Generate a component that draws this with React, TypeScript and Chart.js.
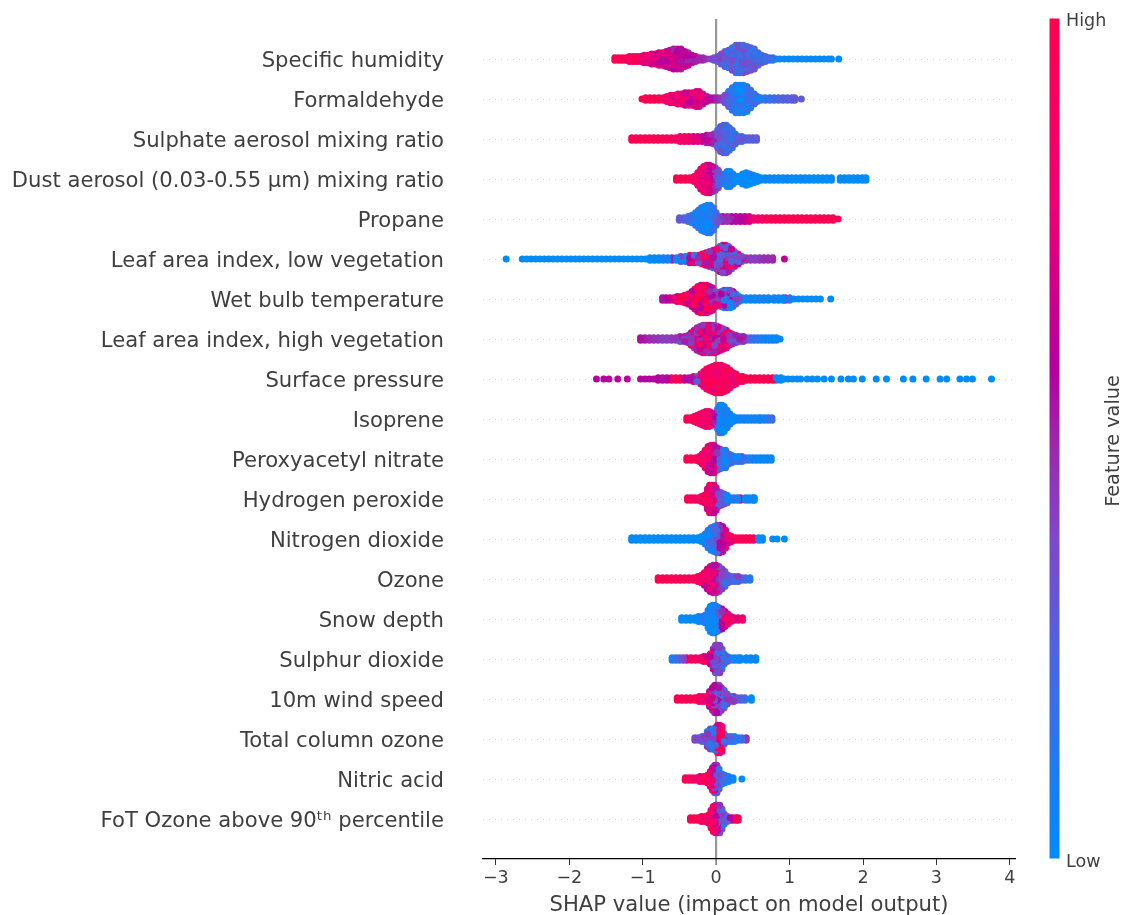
import React, { useEffect, useRef } from "react";
import { Chart, registerables } from "chart.js";

Chart.register(...registerables);

const featureNames = [
  "Specific humidity", "Formaldehyde", "Sulphate aerosol mixing ratio",
  "Dust aerosol (0.03-0.55 μm) mixing ratio", "Propane", "Leaf area index, low vegetation",
  "Wet bulb temperature", "Leaf area index, high vegetation", "Surface pressure", "Isoprene",
  "Peroxyacetyl nitrate", "Hydrogen peroxide", "Nitrogen dioxide", "Ozone", "Snow depth",
  "Sulphur dioxide", "10m wind speed", "Total column ozone", "Nitric acid",
  "FoT Ozone above 90ᵗʰ percentile",
];

// Each entry: [SHAP value, samples stacked at that value, feature value 0..1]
const specificHumidity = [[-1.38,2,.97],[-1.33,2,.96],[-1.28,2,.97],[-1.23,2,.92],[-1.18,3,.9],[-1.13,3,.88],[-1.08,3,.85],[-1.03,3,.82],[-.98,4,.8],[-.93,4,.78],[-.88,5,.75],[-.83,5,.72],[-.78,6,.7],[-.73,6,.66],[-.68,7,.64],[-.63,8,.62],[-.58,9,.6],[-.53,9,.62],[-.48,9,.6],[-.43,7,.58],[-.38,6,.56],[-.33,4,.54],[-.28,3,.52],[-.23,2,.5],[-.18,2,.48],[-.13,1,.46],[-.08,1,.4],[-.03,2,.34],[.02,3,.3],[.07,5,.28],[.12,7,.27],[.17,8,.26],[.22,10,.26],[.27,12,.25],[.32,12,.26],[.37,12,.27],[.42,11,.26],[.47,10,.25],[.52,9,.25],[.57,6,.25],[.62,4,.24],[.67,3,.2],[.72,2,.16],[.77,2,.12],[.82,1,.08],[.87,1,.05],[.93,1,.02],[.99,1,0],[1.05,1,0],[1.11,1,.02],[1.17,1,0],[1.23,1,.02],[1.29,1,0],[1.35,1,0],[1.41,1,0],[1.47,1,0],[1.53,1,0],[1.57,1,0],[1.67,1,0]];
const formaldehyde = [[-1.01,1,.98],[-.96,2,.98],[-.9,2,.98],[-.84,2,.97],[-.78,2,.96],[-.72,2,.94],[-.67,3,.88],[-.62,4,.82],[-.57,4,.78],[-.52,5,.74],[-.47,5,.72],[-.42,6,.7],[-.37,6,.7],[-.32,6,.7],[-.27,7,.72],[-.23,7,.68],[-.18,5,.62],[-.13,3,.58],[-.08,2,.55],[-.03,2,.5],[.02,2,.45],[.07,2,.38],[.12,4,.25],[.17,7,.15],[.22,10,.1],[.27,12,.08],[.32,12,.08],[.37,12,.1],[.42,11,.12],[.47,8,.12],[.52,5,.12],[.56,3,.14],[.61,2,.15],[.67,2,.12],[.73,2,.18],[.79,2,.22],[.85,2,.24],[.91,2,.25],[.97,2,.26],[1.03,2,.28],[1.07,2,.3],[1.16,1,.3]];
const sulphateAerosol = [[-1.15,2,.98],[-1.09,2,.98],[-1.03,2,.98],[-.97,2,.98],[-.91,2,.98],[-.85,2,.98],[-.79,2,.97],[-.73,2,.97],[-.67,2,.95],[-.61,2,.92],[-.55,2,.9],[-.49,3,.85],[-.43,3,.82],[-.37,3,.78],[-.31,3,.72],[-.25,3,.68],[-.19,3,.64],[-.13,4,.58],[-.08,4,.52],[-.03,5,.42],[.02,8,.3],[.06,11,.24],[.1,12,.2],[.14,12,.2],[.18,10,.2],[.22,8,.2],[.26,5,.2],[.3,3,.22],[.35,3,.24],[.4,2,.25],[.45,2,.27],[.5,2,.28],[.55,2,.28]];
const dustAerosol = [[-.54,2,.98],[-.48,2,.98],[-.42,2,.97],[-.36,2,.95],[-.3,3,.9],[-.25,6,.8],[-.21,9,.76],[-.17,11,.74],[-.13,12,.72],[-.09,12,.66],[-.05,11,.56],[-.01,10,.4],[.03,8,.28],[.07,3,.12],[.11,5,.08],[.15,7,.04],[.19,7,.02],[.23,5,.02],[.27,3,0],[.31,3,0],[.36,5,0],[.41,6,0],[.46,5,0],[.51,4,0],[.56,3,0],[.61,2,0],[.67,2,.02],[.73,2,.04],[.79,2,.02],[.85,2,0],[.91,2,.02],[.97,2,.02],[1.03,2,0],[1.09,2,0],[1.15,2,.02],[1.21,2,0],[1.27,2,0],[1.33,2,0],[1.39,2,0],[1.45,2,0],[1.51,2,0],[1.57,2,.03],[1.69,2,0],[1.75,2,0],[1.81,2,0],[1.87,2,0],[1.93,2,0],[1.99,2,0],[2.04,2,0]];
const propane = [[-.5,2,.3],[-.44,2,.25],[-.38,3,.18],[-.33,4,.15],[-.28,6,.12],[-.24,8,.1],[-.2,10,.08],[-.16,11,.06],[-.12,12,.05],[-.08,12,.08],[-.04,10,.16],[0,6,.3],[.04,3,.42],[.09,3,.5],[.15,3,.52],[.21,3,.55],[.27,3,.58],[.33,3,.6],[.39,3,.65],[.45,3,.72],[.51,2,.8],[.57,2,.88],[.63,2,.92],[.69,2,.96],[.75,2,.98],[.81,2,.98],[.87,2,.98],[.93,2,.98],[.99,2,.98],[1.05,2,.98],[1.11,2,.98],[1.17,2,.98],[1.23,2,.98],[1.29,2,.98],[1.35,2,.98],[1.41,2,.98],[1.47,2,.98],[1.53,2,.98],[1.59,2,.98],[1.66,1,.98]];
const leafLow = [[-2.86,1,0],[-2.64,1,0],[-2.58,1,0],[-2.52,1,0],[-2.46,1,0],[-2.4,1,0],[-2.34,1,0],[-2.28,1,0],[-2.22,1,0],[-2.16,1,0],[-2.1,1,0],[-2.04,1,0],[-1.98,1,0],[-1.92,1,0],[-1.86,1,0],[-1.8,1,0],[-1.74,1,0],[-1.68,1,0],[-1.62,1,0],[-1.56,1,0],[-1.5,1,0],[-1.44,1,0],[-1.38,1,0],[-1.32,1,0],[-1.26,1,0],[-1.2,1,0],[-1.14,1,0],[-1.08,1,0],[-1.02,1,0],[-.96,1,0],[-.9,2,0],[-.84,2,.02],[-.78,2,.03],[-.72,2,.05],[-.66,2,.06],[-.6,2,.5],[-.54,2,.08],[-.48,3,.15],[-.42,3,.2],[-.36,4,.85],[-.3,4,.5],[-.24,4,.6],[-.19,5,.9],[-.14,6,.7],[-.09,7,.7],[-.04,8,.55],[.01,9,.55],[.05,11,.5],[.09,12,.55],[.13,12,.52],[.17,11,.5],[.21,9,.5],[.25,7,.5],[.3,5,.5],[.35,3,.52],[.41,2,.45],[.47,2,.42],[.53,2,.42],[.59,2,.45],[.65,2,.48],[.71,2,.48],[.77,2,.5],[.93,1,.62]];
const wetBulb = [[-.73,2,.55],[-.68,2,.58],[-.63,2,.72],[-.58,2,.8],[-.53,3,.85],[-.48,3,.82],[-.43,4,.88],[-.38,5,.85],[-.33,7,.88],[-.29,9,.88],[-.25,11,.85],[-.21,12,.85],[-.17,12,.88],[-.13,12,.82],[-.09,11,.78],[-.05,10,.7],[-.01,7,.62],[.03,6,.55],[.07,7,.38],[.11,8,.3],[.15,8,.26],[.19,8,.3],[.23,7,.34],[.27,5,.15],[.31,3,.1],[.35,2,.1],[.41,2,.04],[.47,2,.02],[.53,2,.02],[.59,2,.1],[.65,2,.04],[.71,2,.02],[.73,1,.85],[.79,2,.05],[.85,2,.02],[.91,2,.02],[.94,2,.8],[1,2,.1],[1.06,1,0],[1.12,1,0],[1.18,1,0],[1.24,1,0],[1.3,1,0],[1.36,1,0],[1.42,1,0],[1.56,1,0]];
const leafHigh = [[-1.03,2,.55],[-.97,2,.52],[-.91,2,.48],[-.85,2,.45],[-.79,2,.44],[-.73,2,.42],[-.67,2,.42],[-.61,2,.44],[-.55,2,.45],[-.49,3,.45],[-.43,3,.52],[-.38,4,.6],[-.34,6,.62],[-.3,8,.62],[-.26,10,.64],[-.22,11,.66],[-.18,12,.66],[-.14,12,.66],[-.1,12,.64],[-.06,12,.62],[-.02,12,.6],[.02,11,.58],[.06,10,.55],[.1,9,.55],[.14,8,.62],[.18,6,.62],[.22,5,.55],[.27,4,.4],[.32,3,.32],[.37,3,.3],[.42,2,.25],[.47,2,.18],[.52,2,.15],[.57,2,.1],[.62,2,.06],[.67,2,.03],[.72,2,.02],[.77,2,.02],[.82,2,.02],[.87,1,.02]];
const surfacePressure = [[-1.63,1,.6],[-1.53,1,.6],[-1.46,1,.6],[-1.34,1,.58],[-1.21,1,.62],[-1.03,1,.6],[-.97,1,.6],[-.91,1,.6],[-.85,1,.58],[-.79,2,.6],[-.73,2,.55],[-.67,2,.62],[-.61,2,.92],[-.55,2,.95],[-.49,2,.95],[-.43,2,.6],[-.37,2,.55],[-.31,3,.6],[-.26,3,.42],[-.21,5,.9],[-.17,7,.88],[-.13,9,.85],[-.09,10,.85],[-.05,11,.88],[-.01,12,.9],[.03,12,.92],[.07,12,.9],[.11,11,.9],[.15,10,.92],[.19,8,.92],[.23,6,.9],[.27,5,.95],[.31,3,.95],[.36,3,.95],[.41,2,.98],[.47,2,.98],[.53,2,.98],[.59,2,.98],[.65,2,.98],[.71,2,.98],[.77,2,.98],[.82,2,0],[.88,2,0],[.93,1,0],[.98,1,0],[1.04,1,0],[1.1,1,0],[1.15,1,0],[1.24,1,0],[1.31,1,0],[1.38,1,0],[1.47,1,0],[1.57,1,0],[1.7,1,0],[1.8,1,0],[1.87,1,0],[1.99,1,0],[2.18,1,0],[2.32,1,0],[2.55,1,0],[2.68,1,0],[2.86,1,0],[3.05,1,0],[3.14,1,0],[3.32,1,0],[3.41,1,0],[3.49,1,0],[3.75,1,0]];
const isoprene = [[-.4,2,.97],[-.35,2,.97],[-.3,3,.95],[-.26,4,.92],[-.22,5,.9],[-.18,6,.86],[-.14,7,.82],[-.1,7,.82],[-.06,6,.7],[-.02,3,.55],[.02,9,.18],[.05,12,.05],[.08,12,.04],[.11,11,.05],[.15,8,.05],[.19,5,.03],[.23,3,.03],[.28,2,.05],[.33,2,.05],[.38,2,.05],[.43,2,.05],[.48,2,.06],[.53,2,.05],[.58,2,.05],[.61,2,.05],[.66,2,.1],[.71,2,.18],[.76,2,.2]];
const peroxyacetylNitrate = [[-.4,2,.97],[-.34,2,.97],[-.28,2,.97],[-.23,3,.95],[-.19,5,.92],[-.15,8,.85],[-.11,11,.76],[-.07,12,.7],[-.03,12,.66],[.01,10,.5],[.05,9,.3],[.09,8,.15],[.13,8,.12],[.17,5,.1],[.21,4,.08],[.25,3,.1],[.3,3,.1],[.35,3,.12],[.4,2,.16],[.45,2,.08],[.5,2,.05],[.55,2,.02],[.6,2,.02],[.65,2,.02],[.7,2,.02],[.75,2,.02]];
const hydrogenPeroxide = [[-.39,2,.95],[-.34,2,.92],[-.29,2,.9],[-.24,2,.88],[-.2,3,.85],[-.16,4,.85],[-.12,9,.8],[-.09,12,.82],[-.06,12,.78],[-.03,12,.72],[0,10,.6],[.03,7,.35],[.07,6,.25],[.11,5,.2],[.15,4,.15],[.19,2,.1],[.24,2,.08],[.29,2,.08],[.33,2,.85],[.4,2,.02],[.45,2,.02],[.5,2,.02],[.52,2,.02]];
const nitrogenDioxide = [[-1.15,2,0],[-1.09,2,0],[-1.03,2,0],[-.97,2,0],[-.91,2,.01],[-.85,2,0],[-.79,2,0],[-.73,2,0],[-.67,2,0],[-.61,2,0],[-.55,2,0],[-.49,2,0],[-.43,2,0],[-.37,2,0],[-.31,2,0],[-.25,2,0],[-.2,3,.02],[-.15,5,.06],[-.11,8,.1],[-.07,10,.14],[-.03,11,.2],[.01,12,.3],[.05,12,.5],[.09,11,.62],[.13,8,.7],[.17,4,.82],[.21,3,.88],[.26,2,.95],[.31,2,.96],[.36,2,.96],[.41,2,.96],[.46,2,.96],[.51,2,.96],[.58,2,.02],[.63,2,0],[.77,1,0],[.83,1,0],[.93,1,0]];
const ozone = [[-.79,2,.98],[-.73,2,.98],[-.67,2,.98],[-.61,2,.97],[-.55,2,.97],[-.49,2,.96],[-.43,2,.95],[-.37,2,.94],[-.31,2,.92],[-.25,3,.9],[-.2,4,.88],[-.16,6,.78],[-.12,9,.72],[-.08,11,.68],[-.04,12,.66],[0,12,.6],[.04,11,.42],[.08,9,.3],[.12,7,.22],[.16,4,.2],[.2,3,.22],[.25,3,.25],[.3,3,.28],[.35,2,.22],[.4,2,.18],[.46,2,.12]];
const snowDepth = [[-.47,2,0],[-.41,2,0],[-.35,2,0],[-.29,2,0],[-.24,3,0],[-.19,3,.01],[-.15,4,.01],[-.11,8,.02],[-.08,11,.03],[-.05,12,.05],[-.02,12,.08],[.01,11,.15],[.04,10,.25],[.08,9,.55],[.12,7,.72],[.16,5,.78],[.2,3,.8],[.25,2,.72],[.3,2,.78],[.36,2,.85]];
const sulphurDioxide = [[-.6,2,.1],[-.55,2,.22],[-.5,2,.3],[-.45,2,.38],[-.4,2,.9],[-.34,2,.92],[-.28,2,.88],[-.22,2,.85],[-.17,3,.82],[-.12,3,.78],[-.08,5,.7],[-.04,9,.55],[-.01,12,.4],[.02,12,.35],[.05,12,.32],[.08,9,.28],[.11,5,.2],[.15,3,.1],[.2,2,.05],[.25,2,.02],[.3,2,.02],[.33,2,.02],[.41,2,.02],[.47,2,.02],[.54,2,.02]];
const windSpeed = [[-.53,2,.98],[-.47,2,.98],[-.41,2,.98],[-.35,2,.97],[-.29,2,.97],[-.23,3,.95],[-.18,3,.9],[-.13,3,.85],[-.09,7,.7],[-.05,10,.55],[-.02,12,.45],[.01,12,.42],[.04,12,.4],[.07,10,.35],[.11,8,.3],[.15,5,.3],[.19,3,.28],[.24,3,.32],[.29,2,.28],[.34,2,.22],[.39,2,.15],[.48,2,0]];
const totalColumnOzone = [[-.29,2,.38],[-.24,2,.35],[-.19,3,.32],[-.15,3,.3],[-.12,7,.25],[-.08,9,.22],[-.04,9,.2],[-.01,10,.4],[.02,12,.85],[.05,12,.95],[.08,11,.95],[.11,5,.3],[.15,3,.15],[.2,3,.08],[.25,3,.05],[.3,2,.12],[.35,2,.25],[.41,2,.45]];
const nitricAcid = [[-.42,2,.95],[-.37,2,.92],[-.32,2,.88],[-.27,2,.85],[-.22,3,.82],[-.17,3,.85],[-.12,4,.88],[-.08,7,.8],[-.05,10,.65],[-.02,12,.45],[.01,12,.3],[.04,9,.22],[.08,5,.12],[.12,4,.05],[.17,3,.03],[.23,2,.02],[.35,1,0]];
const fotOzone = [[-.35,2,.98],[-.3,2,.98],[-.25,2,.97],[-.2,3,.96],[-.15,3,.92],[-.11,4,.88],[-.07,8,.82],[-.04,11,.75],[-.01,12,.62],[.02,12,.45],[.05,12,.32],[.08,9,.28],[.11,5,.22],[.15,3,.15],[.19,2,.6],[.23,2,.95],[.27,2,.98],[.3,2,.98]];

const rows = [specificHumidity, formaldehyde, sulphateAerosol, dustAerosol, propane, leafLow, wetBulb, leafHigh, surfacePressure, isoprene, peroxyacetylNitrate, hydrogenPeroxide, nitrogenDioxide, ozone, snowDepth, sulphurDioxide, windSpeed, totalColumnOzone, nitricAcid, fotOzone];
// How much the feature value varies among samples stacked at one SHAP value.
const rowSpread = [.1,.1,.08,.08,.06,.28,.3,.22,.16,.08,.12,.12,.1,.14,.1,.16,.16,.2,.14,.14];
const stackPattern = [0,.9,-.8,.5,-1,1,-.4,.7,-.9,.3,1,-.6];

const colourStops: [number, string][] = [[0,"#008bfb"],[.2,"#3f6ce6"],[.38,"#7f48c8"],[.486,"#9b2aae"],[.585,"#b4009f"],[.78,"#ee0073"],[1,"#ff0051"]];

function hexRgb(h: string) {
  return [1, 3, 5].map((i) => parseInt(h.slice(i, i + 2), 16));
}
function colourOf(v: number) {
  const c = Math.min(1, Math.max(0, v));
  for (let i = 1; i < colourStops.length; i++) {
    if (c <= colourStops[i][0]) {
      const [a, ca] = colourStops[i - 1];
      const [b, cb] = colourStops[i];
      const t = (c - a) / (b - a);
      const A = hexRgb(ca), B = hexRgb(cb);
      return `rgb(${A.map((x, k) => Math.round(x + (B[k] - x) * t)).join(",")})`;
    }
  }
  return colourStops[colourStops.length - 1][1];
}

const STACK_STEP = 0.0625; // row units between stacked samples

function buildDataset(row: number[][], idx: number) {
  const pts: { x: number; y: number; c: string; key: number }[] = [];
  row.forEach(([x, n, c], col) => {
    for (let k = 0; k < n; k++) {
      const mix = n >= 3 ? stackPattern[(k + col) % stackPattern.length] * rowSpread[idx] : 0;
      pts.push({
        x,
        y: idx + (k - (n - 1) / 2) * STACK_STEP,
        c: colourOf(c + mix),
        key: ((pts.length + 1) * 2654435761) >>> 0,
      });
    }
  });
  pts.sort((a, b) => (a.key % 9973) - (b.key % 9973)); // draw order only
  return {
    label: featureNames[idx],
    data: pts.map((p) => ({ x: p.x, y: p.y })),
    pointBackgroundColor: pts.map((p) => p.c),
    pointRadius: 3.5,
    pointBorderWidth: 0,
    showLine: false,
  };
}

const FONT = "'DejaVu Sans'";
const TEXT = "#3f3f3f";

const colorBar = {
  id: "colorBar",
  afterDraw(chart: any) {
    const { ctx } = chart;
    const x = 1049.5, w = 10, top = 18.5, bottom = 858.5;
    ctx.save();
    const g = ctx.createLinearGradient(0, bottom, 0, top);
    colourStops.forEach(([p, c]) => g.addColorStop(p, c));
    ctx.fillStyle = g;
    ctx.fillRect(x, top, w, bottom - top);
    ctx.fillStyle = TEXT;
    ctx.font = `17.5px ${FONT}`;
    ctx.textAlign = "left";
    ctx.textBaseline = "middle";
    ctx.fillText("High", 1066, 21);
    ctx.fillText("Low", 1066, 862);
    ctx.font = `19.3px ${FONT}`;
    ctx.translate(1114, 441);
    ctx.rotate(-Math.PI / 2);
    ctx.textAlign = "center";
    ctx.fillText("Feature value", 0, 0);
    ctx.restore();
  },
};

export default function App() {
  const ref = useRef<HTMLCanvasElement>(null);
  useEffect(() => {
    const chart = new Chart(ref.current!, {
      type: "scatter",
      data: { datasets: rows.map(buildDataset) as any },
      plugins: [colorBar],
      options: {
        animation: false,
        responsive: false,
        layout: { padding: { top: 19, right: 108, left: 0, bottom: 0 } },
        plugins: { legend: { display: false }, tooltip: { enabled: false } },
        scales: {
          x: {
            type: "linear",
            min: -3.175,
            max: 4.07,
            afterFit(s: any) { s.height = 56; s.paddingLeft = 0; s.paddingRight = 0; },
            border: { display: true, color: "#000", width: 1.2 },
            grid: {
              color: (c: any) => (c.tick && c.tick.value === 0 ? "#999" : "rgba(0,0,0,0)"),
              lineWidth: (c: any) => (c.tick && c.tick.value === 0 ? 2.2 : 1),
              tickColor: "#333",
              tickWidth: 1,
              tickLength: 6,
            },
            ticks: {
              stepSize: 1,
              includeBounds: false,
              color: TEXT,
              font: { family: "'DejaVu Sans'", size: 17.5 },
              padding: 3,
              maxRotation: 0,
              callback: (v: any) => (v < 0 ? "−" + Math.abs(v) : String(v)),
            },
            title: {
              display: true,
              text: "SHAP value (impact on model output)",
              color: TEXT,
              font: { family: "'DejaVu Sans'", size: 21.15 },
              padding: { top: 0, bottom: -3 },
            },
          },
          y: {
            type: "linear",
            reverse: true,
            min: -1,
            max: 20,
            afterFit(s: any) { s.width = 483; s.paddingTop = 0; s.paddingBottom = 0; },
            border: { display: false, dash: [1, 5] },
            grid: {
              color: (c: any) => (c.tick && c.tick.value >= 0 && c.tick.value <= 19 ? "#ccc" : "rgba(0,0,0,0)"),
              lineWidth: 1,
              drawTicks: false,
            },
            ticks: {
              stepSize: 1,
              autoSkip: false,
              includeBounds: false,
              color: TEXT,
              font: { family: "'DejaVu Sans'", size: 21.15 },
              padding: 39,
              labelOffset: 3,
              callback: (v: any) => featureNames[v] ?? "",
            },
          },
        },
      },
    });
    return () => chart.destroy();
  }, []);
  return (
    <canvas
      ref={ref}
      width={1123}
      height={915}
      style={{ position: "absolute", left: 0, top: 0, display: "block", width: 1123, height: 915 }}
    />
  );
}
